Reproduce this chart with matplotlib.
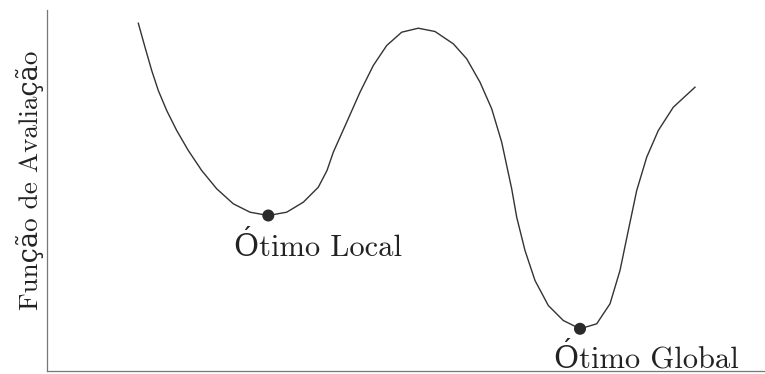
import numpy as np
import matplotlib.pyplot as plt

plt.rcParams['font.family'] = ['cmr10', 'DejaVu Serif']
plt.rcParams['axes.formatter.use_mathtext'] = True

# curve traced along the search space (x) vs evaluation value (y)
curve_x = [91.3, 98, 104.7, 111.3, 119.7, 129.7, 141.3, 154.7, 169.7, 186.3,
           203, 221.3, 239.7, 256.3, 271.3, 280, 286.3, 299.7, 313, 326.3,
           339.7, 354.7, 371.3, 388, 406.3, 419.7, 433, 444.7, 454.7, 464.7,
           469.7, 478, 488, 501.3, 516.3, 533, 549.7, 563, 573, 581.3,
           589.7, 599.7, 611.3, 626.3, 648]
curve_y = [347.3, 323.3, 300, 280, 260, 240, 220, 200, 181.7, 166.7,
           158.3, 155, 158.3, 168.3, 183.3, 200, 218.3, 248.3, 278.3, 305,
           325, 338.3, 342.3, 339, 326.7, 311.7, 288.3, 261.7, 228.3, 181.7,
           153.3, 120, 90, 65, 50, 41.7, 46.7, 66.7, 100, 140,
           180, 213.3, 240, 263.3, 283.3]

# marked optima
opt_x = [221.3, 533]
opt_y = [155, 41.7]
opt_labels = ['Ótimo Local', 'Ótimo Global']

fig = plt.figure(figsize=(7.65, 3.74), dpi=100)
ax = fig.add_axes([47 / 765, 3.5 / 374, 718 / 765, 360.5 / 374])

ax.plot(curve_x, curve_y, color='#333333', lw=1.0, solid_joinstyle='round')
ax.scatter(opt_x, opt_y, s=75, color='#2a2a2a', marker='o', zorder=3,
           edgecolors='none')

ax.text(opt_x[0] + 50, 115, opt_labels[0], ha='center', va='baseline',
        fontsize=22, color='#222222')
ax.text(opt_x[1] + 66, 3, opt_labels[1], ha='center', va='baseline',
        fontsize=22, color='#222222')

ax.set_xlim(0, 718)
ax.set_ylim(0, 360.5)
ax.set_xticks([])
ax.set_yticks([])
for side in ['top', 'right']:
    ax.spines[side].set_visible(False)
for side in ['left', 'bottom']:
    ax.spines[side].set_color('#777777')
    ax.spines[side].set_linewidth(0.9)

fig.text(30 / 765, 1 - 180 / 374, 'Função de Avaliação', rotation=90,
         ha='center', va='center', fontsize=19.5, color='#222222')

fig.savefig('out.png', dpi=100)
